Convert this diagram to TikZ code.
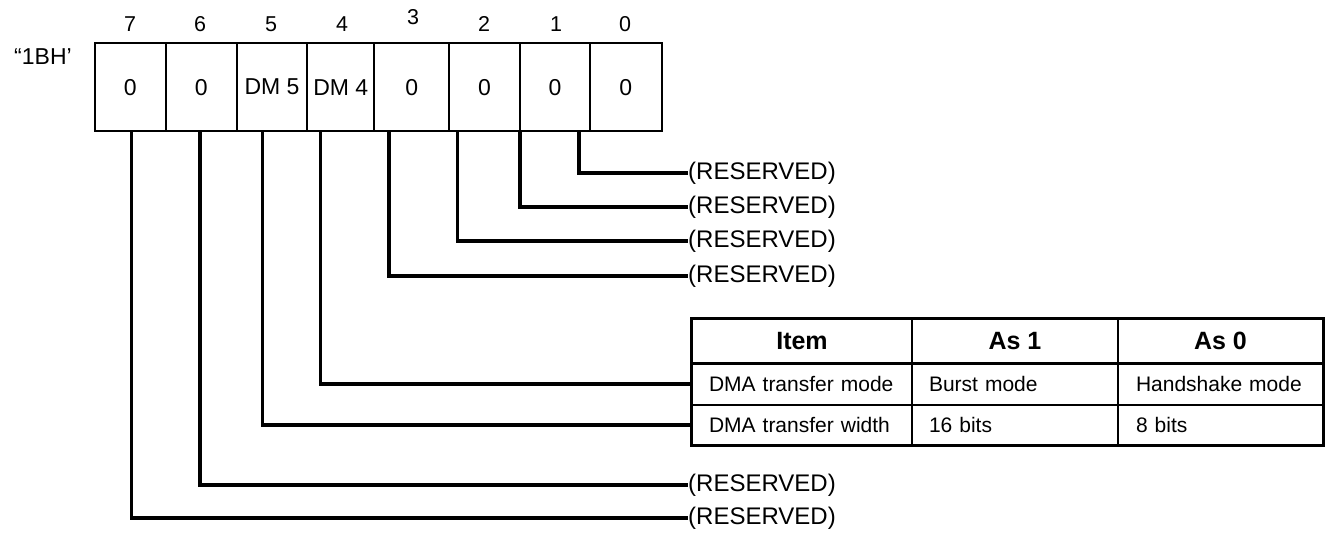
\documentclass[tikz,border=0pt]{standalone}
\usepackage{fontspec}
\setmainfont{Liberation Sans}
\begin{document}
\begin{tikzpicture}[x=1pt,y=-1pt,
  regcell/.style={draw, line width=1.7pt, minimum height=88pt, inner sep=0pt, font=\fontsize{23}{27}\selectfont},
  bitnum/.style={inner sep=0pt, font=\fontsize{21.5}{25}\selectfont},
  conn/.style={line width=3.2pt},
  rsv/.style={anchor=west, inner sep=0pt, font=\fontsize{24}{28}\selectfont},
  tcell/.style={draw, line width=1.6pt, inner sep=0pt},
  thead/.style={tcell, font=\bfseries\fontsize{25}{30}\selectfont},
  tbody/.style={tcell, align=left, font=\fontsize{21}{25}\selectfont},
  frame/.style={line width=2.8pt}
]
\useasboundingbox (0,0) rectangle (1327,539);

% register label
\node[inner sep=0pt, font=\fontsize{23}{27}\selectfont] (reg) at (43,57) {“1BH’};

% bit numbers
\node[bitnum] (n7) at (130,24) {7};
\node[bitnum] (n6) at (200,24) {6};
\node[bitnum] (n5) at (271,24) {5};
\node[bitnum] (n4) at (342,24) {4};
\node[bitnum] (n3) at (413,17) {3};
\node[bitnum] (n2) at (484,24) {2};
\node[bitnum] (n1) at (556,24) {1};
\node[bitnum] (n0) at (625,24) {0};

% register cells
\node[regcell, minimum width=70.7pt] (c7) at (130.35,87.15) {0};
\node[regcell, minimum width=71pt]   (c6) at (201.2,87.15) {0};
\node[regcell, minimum width=70.6pt] (c5) at (272,87.15) {DM 5};
\node[regcell, minimum width=67pt]   (c4) at (340.8,87.15) {DM 4};
\node[regcell, minimum width=74.7pt] (c3) at (411.65,87.15) {0};
\node[regcell, minimum width=71pt]   (c2) at (484.5,87.15) {0};
\node[regcell, minimum width=70pt]   (c1) at (555,87.15) {0};
\node[regcell, minimum width=71.7pt] (c0) at (625.85,87.15) {0};

% connector start points on the register bottom
\coordinate (p7) at (131.7,131.15);
\coordinate (p6) at (200,131.15);
\coordinate (p5) at (262.3,131.15);
\coordinate (p4) at (320.7,131.15);
\coordinate (p3) at (389,131.15);
\coordinate (p2) at (457.3,131.15);
\coordinate (p1) at (520,131.15);
\coordinate (p0) at (579,131.15);

% reserved labels
\node[rsv] (r0) at (688,173) {(RESERVED)};
\node[rsv] (r1) at (688,207) {(RESERVED)};
\node[rsv] (r2) at (688,241) {(RESERVED)};
\node[rsv] (r3) at (688,276) {(RESERVED)};
\node[rsv] (r6) at (688,485) {(RESERVED)};
\node[rsv] (r7) at (688,518) {(RESERVED)};

% table
\node[thead, minimum width=220pt, minimum height=44pt] (h1) at (802,341) {Item};
\node[thead, minimum width=206pt, minimum height=44pt] (h2) at (1015,341) {As 1};
\node[thead, minimum width=205pt, minimum height=44pt] (h3) at (1220.5,341) {As 0};
\node[tbody, text width=186pt, inner xsep=17pt, minimum height=42pt] (b11) at (802,384) {DMA transfer mode};
\node[tbody, text width=172pt, inner xsep=17pt, minimum height=42pt] (b12) at (1015,384) {Burst mode};
\node[tbody, text width=169pt, inner xsep=18pt, minimum height=42pt] (b13) at (1220.5,384) {Handshake mode};
\node[tbody, text width=186pt, inner xsep=17pt, minimum height=40pt] (b21) at (802,425) {DMA transfer width};
\node[tbody, text width=172pt, inner xsep=17pt, minimum height=40pt] (b22) at (1015,425) {16 bits};
\node[tbody, text width=169pt, inner xsep=18pt, minimum height=40pt] (b23) at (1220.5,425) {8 bits};
\draw[frame] (h1.north west) rectangle (b23.south east);
\draw[frame] (h1.south west) -- (h3.south east);

% connectors
\draw[conn] (p0) |- (r0.west);
\draw[conn] (p1) |- (r1.west);
\draw[conn] (p2) |- (r2.west);
\draw[conn] (p3) |- (r3.west);
\draw[conn] (p4) |- (b11.west);
\draw[conn] (p5) |- (b21.west);
\draw[conn] (p6) |- (r6.west);
\draw[conn] (p7) |- (r7.west);
\end{tikzpicture}
\end{document}
